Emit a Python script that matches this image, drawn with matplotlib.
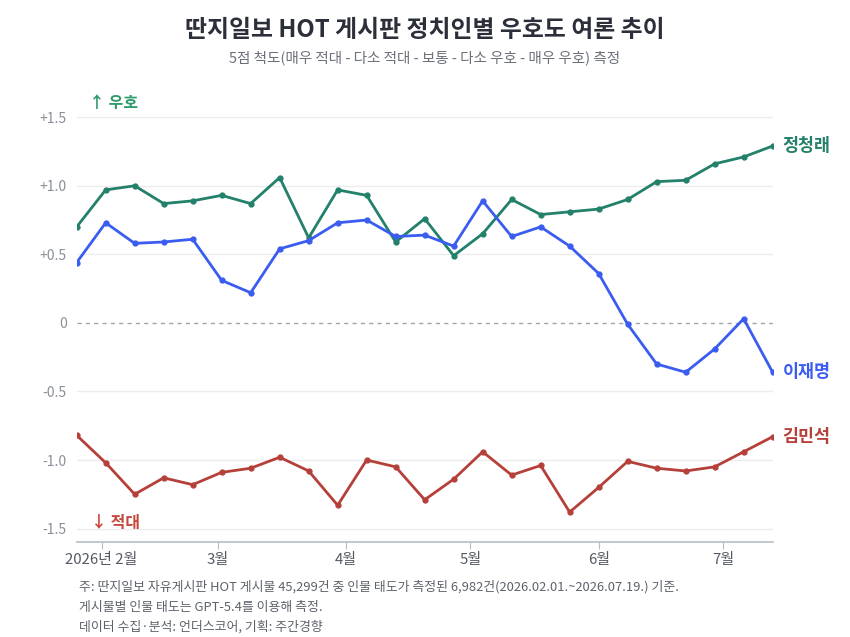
import matplotlib

matplotlib.use("Agg")
import matplotlib.pyplot as plt
import pandas as pd

plt.rcParams["font.family"] = ["Noto Sans CJK KR", "DejaVu Sans"]

# weekly points (Monday of each week)
weeks = pd.date_range("2026-01-26", periods=25, freq="7D")

jung = [0.70, 0.97, 1.00, 0.87, 0.89, 0.93, 0.87, 1.06, 0.62, 0.97, 0.93, 0.59, 0.76,
        0.49, 0.65, 0.90, 0.79, 0.81, 0.83, 0.90, 1.03, 1.04, 1.16, 1.21, 1.29]
lee = [0.44, 0.73, 0.58, 0.59, 0.61, 0.31, 0.22, 0.54, 0.60, 0.73, 0.75, 0.63, 0.64,
       0.56, 0.89, 0.63, 0.70, 0.56, 0.36, -0.01, -0.30, -0.36, -0.19, 0.03, -0.36]
kim = [-0.82, -1.02, -1.25, -1.13, -1.18, -1.09, -1.06, -0.98, -1.08, -1.33, -1.00, -1.05, -1.29,
       -1.14, -0.94, -1.11, -1.04, -1.38, -1.20, -1.01, -1.06, -1.08, -1.05, -0.94, -0.83]

series = [("정청래", jung, "#23806a"), ("이재명", lee, "#3a5cf0"), ("김민석", kim, "#b5403a")]

month_ticks = pd.to_datetime(["2026-02-01", "2026-03-01", "2026-04-01", "2026-05-01",
                              "2026-06-01", "2026-07-01"])
month_labels = ["2026년 2월", "3월", "4월", "5월", "6월", "7월"]
y_ticks = [1.5, 1.0, 0.5, 0, -0.5, -1.0, -1.5]
y_labels = ["+1.5", "+1.0", "+0.5", "0", "-0.5", "-1.0", "-1.5"]

title = "딴지일보 HOT 게시판 정치인별 우호도 여론 추이"
subtitle = "5점 척도(매우 적대 - 다소 적대 - 보통 - 다소 우호 - 매우 우호) 측정"
notes = [
    "주: 딴지일보 자유게시판 HOT 게시물 45,299건 중 인물 태도가 측정된 6,982건(2026.02.01.~2026.07.19.) 기준.",
    "게시물별 인물 태도는 GPT-5.4를 이용해 측정.",
    "데이터 수집·분석: 언더스코어, 기획: 주간경향",
]

fig = plt.figure(figsize=(8.5, 6.37), dpi=100)
ax = fig.add_axes([0.0902, 0.1487, 0.8188, 0.6996])

for yv in y_ticks:
    if yv == 0:
        ax.axhline(0, color="#a0a4ad", lw=1.0, ls=(0, (3, 3)), zorder=1)
    else:
        ax.axhline(yv, color="#ececef", lw=1.0, zorder=0)

for name, vals, color in series:
    ax.plot(weeks, vals, color=color, lw=2.0, marker="o", ms=3.5, zorder=3,
            solid_joinstyle="round")
    ax.annotate(name, (weeks[-1], vals[-1]), xytext=(7, 0), textcoords="offset points",
                ha="left", va="center", color=color, fontsize=12.5, fontweight="bold",
                annotation_clip=False)

ax.set_xlim(weeks[0], weeks[-1])
ax.set_ylim(-1.6, 1.65)
ax.set_yticks(y_ticks)
ax.set_yticklabels(y_labels)
ax.set_xticks(month_ticks)
ax.set_xticklabels(month_labels)
ax.tick_params(axis="y", length=0, pad=7, labelsize=10, labelcolor="#8a8f99")
ax.tick_params(axis="x", length=5, color="#b8bcc6", pad=3, labelsize=10.8, labelcolor="#555a63")
for s in ("top", "right", "left"):
    ax.spines[s].set_visible(False)
ax.spines["bottom"].set_color("#b8bcc6")
ax.spines["bottom"].set_linewidth(1.2)

ax.text(0.018, 1.6, "↑ 우호", transform=ax.get_yaxis_transform(), color="#2e9a6c",
        fontsize=11.5, fontweight="bold", va="center", ha="left")
ax.text(0.021, -1.46, "↓ 적대", transform=ax.get_yaxis_transform(), color="#c8453c",
        fontsize=11.5, fontweight="bold", va="center", ha="left")

fig.text(0.5, 1 - 30 / 637, title, ha="center", va="center", fontsize=17.2,
         fontweight="bold", color="#2b2f3a")
fig.text(0.5, 1 - 58 / 637, subtitle, ha="center", va="center", fontsize=10.5, color="#6b707a")
for i, line in enumerate(notes):
    fig.text(79 / 850, 1 - (587 + 20 * i) / 637, line, ha="left", va="center",
             fontsize=9.3, color="#5d626b")

fig.savefig("out.png", dpi=100, facecolor="white")
